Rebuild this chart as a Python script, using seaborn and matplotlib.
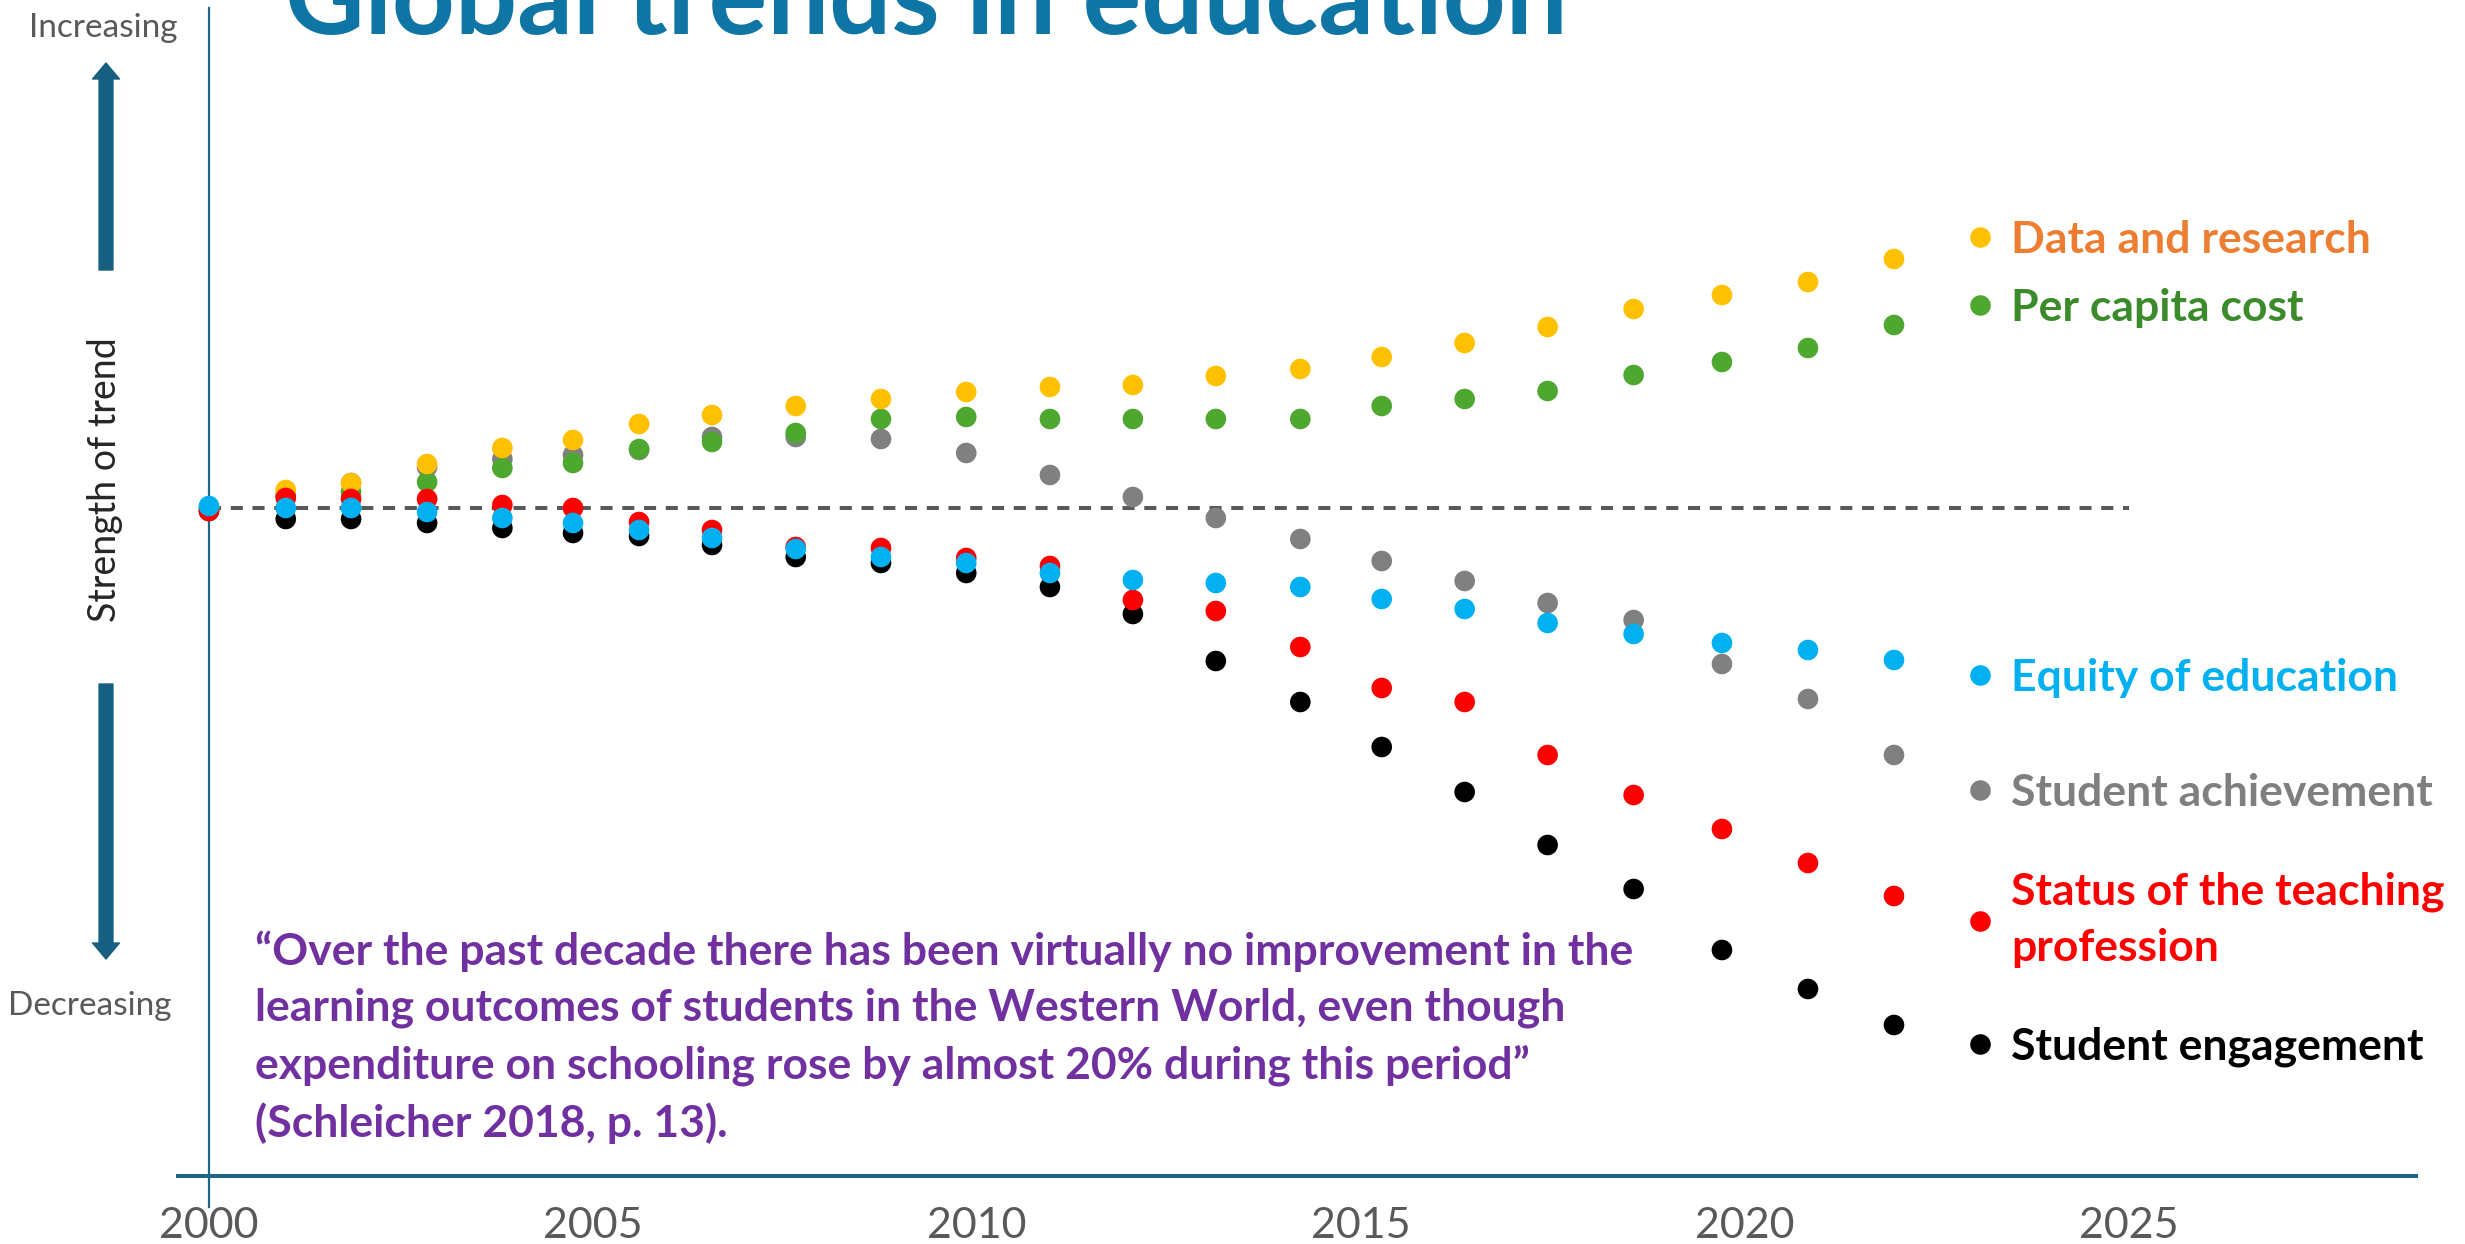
import pandas as pd
import matplotlib
matplotlib.use('Agg')
import matplotlib.pyplot as plt
from matplotlib.lines import Line2D
from matplotlib.legend import Legend
import seaborn as sns

# values (arbitrary "strength" units, 0 = no change)
years = [2000.0, 2001.0, 2001.85, 2002.84, 2003.82, 2004.74, 2005.6, 2006.55, 2007.64, 2008.75,
         2009.86, 2010.95, 2012.03, 2013.11, 2014.21, 2015.27, 2016.35, 2017.43, 2018.55,
         2019.7, 2020.82, 2021.94]

data_research = [0, 1.8, 2.5, 4.4, 6.0, 6.8, 8.4, 9.3, 10.2, 10.9, 11.6, 12.1, 12.3, 13.2, 13.9,
                 15.1, 16.5, 18.1, 19.9, 21.3, 22.6, 24.9]
per_capita_cost = [0, 1.2, 1.6, 2.6, 4.0, 4.5, 5.9, 6.6, 7.5, 8.9, 9.1, 8.9, 8.9, 8.9, 8.9,
                   10.2, 10.9, 11.7, 13.3, 14.6, 16.0, 18.3]
student_achievement = [0, 1.4, 2.5, 4.1, 4.9, 5.3, 5.8, 7.1, 7.1, 6.9, 5.5, 3.3, 1.1, -1.0, -3.1,
                       -5.3, -7.3, -9.5, -11.2, -15.6, -19.1, -24.7]
teaching_status = [-0.3, 1.0, 0.9, 0.9, 0.3, 0.0, -1.4, -2.2, -3.9, -4.0, -5.0, -5.8, -9.2, -10.3,
                   -13.9, -18.0, -19.4, -24.7, -28.7, -32.1, -35.5, -38.8]
equity = [0.2, 0.0, 0.0, -0.4, -1.0, -1.5, -2.2, -3.0, -4.1, -4.9, -5.5, -6.5, -7.2, -7.5, -7.9,
          -9.1, -10.1, -11.5, -12.6, -13.5, -14.2, -15.2]
engagement = [-0.3, -1.1, -1.1, -1.5, -2.0, -2.5, -2.8, -3.7, -4.9, -5.5, -6.5, -7.9, -10.6, -15.3,
              -19.4, -23.9, -28.4, -33.7, -38.1, -44.2, -48.1, -51.7]

xtick_years = [2000, 2005, 2010, 2015, 2020, 2025]

quote = ("\u201cOver the past decade there has been virtually no improvement in the\n"
         "learning outcomes of students in the Western World, even though\n"
         "expenditure on schooling rose by almost 20% during this period\u201d\n"
         "(Schleicher 2018, p. 13).")

# series in drawing order (later ones sit on top)
series = [
    ('Student engagement', engagement, '#000000', '#000000'),
    ('Student achievement', student_achievement, '#808080', '#7F7F7F'),
    ('Per capita cost', per_capita_cost, '#4EA72E', '#3B8B2B'),
    ('Data and research', data_research, '#FFC000', '#ED7D31'),
    ('Status of the teaching\nprofession', teaching_status, '#FF0000', '#FF0000'),
    ('Equity of education', equity, '#00B0F0', '#00B0F0'),
]

frames = []
for name, vals, dot, txt in series:
    frames.append(pd.DataFrame({'year': years, 'strength': vals, 'trend': name}))
df = pd.concat(frames, ignore_index=True)
palette = {name: dot for name, vals, dot, txt in series}

W, H = 2465, 1244
sns.set_theme(style='white')
plt.rcParams['font.family'] = ['Lato', 'DejaVu Sans']

fig = plt.figure(figsize=(W / 100, H / 100), dpi=100)
ax = fig.add_axes([0, 0, 1, 1])

ax.hlines(0, 2000, 2025, colors='#595959', linestyles=(0, (3, 2.4)), lw=2.9, zorder=1)
sns.scatterplot(data=df, x='year', y='strength', hue='trend', palette=palette, s=220,
                linewidth=0, legend=False, ax=ax, zorder=3)

ax.set_xlim(1997.279, 2029.375)
ax.set_ylim(-73.6, 50.8)
ax.set_xlabel('')
ax.set_ylabel('')
ax.set_yticks([])
ax.set_xticks(xtick_years)
ax.set_xticklabels([str(y) for y in xtick_years], family='Liberation Sans')
ax.tick_params(axis='x', length=0, pad=22, labelsize=31, labelcolor='#595959')
ax.patch.set_alpha(0)

for s in ['top', 'right']:
    ax.spines[s].set_visible(False)
ax.spines['left'].set_position(('data', 2000))
ax.spines['left'].set_bounds(-69.9, 50.0)
ax.spines['left'].set_color('#1C6688')
ax.spines['left'].set_linewidth(1.6)
ax.spines['bottom'].set_position(('data', -66.8))
ax.spines['bottom'].set_bounds(1999.6, 2028.74)
ax.spines['bottom'].set_color('#1C6688')
ax.spines['bottom'].set_linewidth(2.9)


def fx(px):
    return px / W


def fy(py):
    return 1 - py / H


# title, cut by the top edge like on the slide
fig.text(fx(285), fy(34), 'Global trends in education', ha='left', va='baseline',
         fontsize=79, weight='bold', color='#0E75A4')

# left side annotations
fig.text(fx(103), fy(28), 'Increasing', ha='center', va='center', fontsize=24, color='#595959')
fig.text(fx(90), fy(1006), 'Decreasing', ha='center', va='center', fontsize=24, color='#595959')
fig.text(fx(105), fy(480), 'Strength of trend', ha='center', va='center', rotation=90,
         fontsize=27, color='#262626')
arrow_style = 'simple,head_length=1.15,head_width=1.94,tail_width=1.0'
ax.annotate('', xy=(106, H - 63), xytext=(106, H - 270), xycoords='figure pixels',
            textcoords='figure pixels',
            arrowprops=dict(arrowstyle=arrow_style, color='#175F80', mutation_scale=10,
                            shrinkA=0, shrinkB=0))
ax.annotate('', xy=(106, H - 959), xytext=(106, H - 684), xycoords='figure pixels',
            textcoords='figure pixels',
            arrowprops=dict(arrowstyle=arrow_style, color='#175F80', mutation_scale=10,
                            shrinkA=0, shrinkB=0))

# quote
fig.text(fx(255), fy(931), quote, ha='left', va='top', fontsize=32, weight='bold',
         color='#7030A0', linespacing=1.47)

# keys on the right
key_y = {
    'Data and research': 240,
    'Per capita cost': 308,
    'Equity of education': 678,
    'Student achievement': 793,
    'Status of the teaching\nprofession': 920,
    'Student engagement': 1047,
}
for name, vals, dot, txt in series:
    h = Line2D([], [], ls='', marker='o', ms=14.8, color=dot, mec='none')
    leg = Legend(ax, [h], [name], loc='center left', bbox_to_anchor=(fx(1962), fy(key_y[name])),
                 bbox_transform=fig.transFigure, frameon=False, handlelength=0.8,
                 handletextpad=0.3, borderpad=0, borderaxespad=0, labelcolor=txt,
                 prop={'family': 'Lato', 'weight': 'bold', 'size': 32})
    leg.get_texts()[0].set_linespacing(1.5)
    ax.add_artist(leg)

fig.savefig('out.png', dpi=100)
